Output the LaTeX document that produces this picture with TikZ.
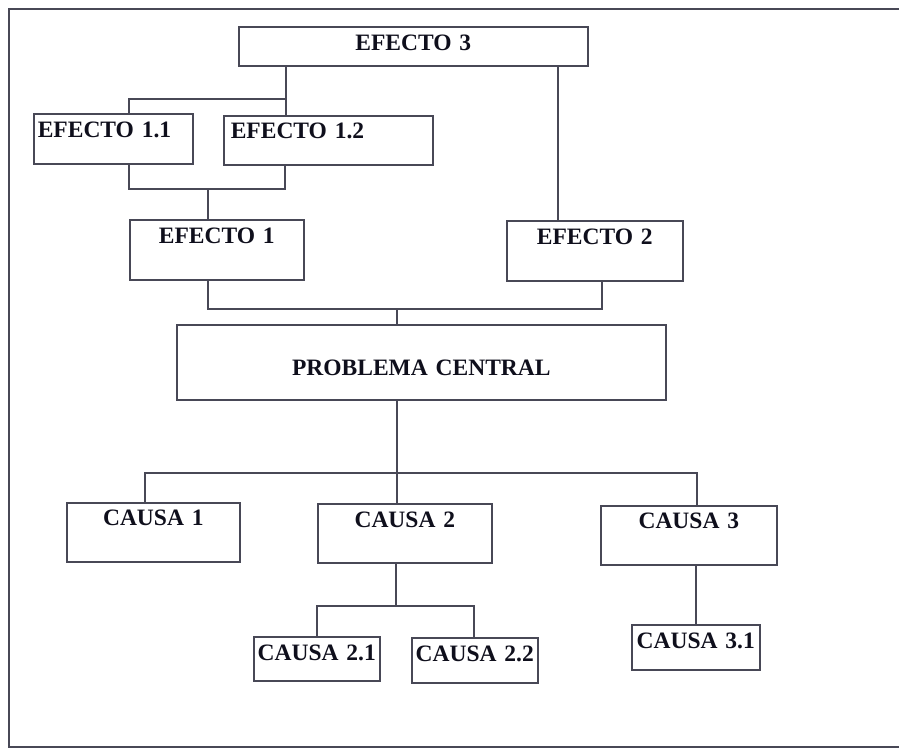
\documentclass[tikz,border=0pt]{standalone}
\usepackage{fontspec}
\setmainfont{Liberation Serif}
\definecolor{ln}{RGB}{72,72,86}
\definecolor{tx}{RGB}{15,15,28}
\begin{document}
\begin{tikzpicture}[x=1pt,y=-1pt,
  box/.style={draw=ln, line width=1.6pt, inner ysep=0pt, inner xsep=0pt, anchor=north west,
    font=\fontsize{23.5}{28}\selectfont\bfseries, text=tx, align=center},
  wire/.style={draw=ln, line width=1.6pt}]
\useasboundingbox (0,0) rectangle (899,751);
\fill[white] (0,0) rectangle (899,751);
% outer frame
\draw[wire] (900,9) -- (9,9) -- (9,747) -- (900,747);
% boxes
\node[box, text width=349pt, text height=24pt, text depth=15pt] (e3) at (238,26) {EFECTO 3};
\node[box, align=left, inner xsep=4pt, text width=151pt, text height=24pt, text depth=26pt] (e11) at (33,113) {EFECTO 1.1};
\node[box, align=left, inner xsep=7pt, text width=195pt, text height=23pt, text depth=26pt] (e12) at (223,115) {EFECTO 1.2};
\node[box, text width=174pt, text height=24pt, text depth=36pt] (e1) at (129,219) {EFECTO 1};
\node[box, text width=176pt, text height=24pt, text depth=36pt] (e2) at (506,220) {EFECTO 2};
\node[box, text width=489pt, text height=51pt, text depth=24pt] (pc) at (176,324) {PROBLEMA CENTRAL};
\node[box, text width=173pt, text height=23pt, text depth=36pt] (c1) at (66,502) {CAUSA 1};
\node[box, text width=174pt, text height=24pt, text depth=35pt] (c2) at (317,503) {CAUSA 2};
\node[box, text width=176pt, text height=23pt, text depth=36pt] (c3) at (600,505) {CAUSA 3};
\node[box, text width=126pt, text height=24pt, text depth=20pt] (c21) at (253,636) {CAUSA 2.1};
\node[box, text width=126pt, text height=24pt, text depth=21pt] (c22) at (411,637) {CAUSA 2.2};
\node[box, text width=128pt, text height=24pt, text depth=21pt] (c31) at (631,624) {CAUSA 3.1};
% junction coordinates
\coordinate (j1) at (286,99);
\coordinate (j1l) at (129,99);
\coordinate (j2l) at (129,189);
\coordinate (j2r) at (285,189);
\coordinate (j2m) at (208,189);
\coordinate (x2) at (558,0);
\coordinate (j3l) at (208,309);
\coordinate (j3r) at (602,309);
\coordinate (j3m) at (397,309);
\coordinate (j4l) at (145,473);
\coordinate (j4r) at (697,473);
\coordinate (j4m) at (397,473);
\coordinate (j5l) at (317,606);
\coordinate (j5r) at (474,606);
\coordinate (j5m) at (396,606);
\coordinate (j6) at (696,0);
% connectors
\draw[wire] (e3.south -| j1) -- (e12.north -| j1);
\draw[wire] (j1) -- (j1l) -- (e11.north -| j1l);
\draw[wire] (e11.south -| j2l) -- (j2l) -- (j2r) -- (e12.south -| j2r);
\draw[wire] (j2m) -- (e1.north -| j2m);
\draw[wire] (e3.south -| x2) -- (e2.north -| x2);
\draw[wire] (e1.south -| j3l) -- (j3l) -- (j3r) -- (e2.south -| j3r);
\draw[wire] (j3m) -- (pc.north -| j3m);
\draw[wire] (pc.south -| j4m) -- (c2.north -| j4m);
\draw[wire] (c1.north -| j4l) -- (j4l) -- (j4r) -- (c3.north -| j4r);
\draw[wire] (c2.south -| j5m) -- (j5m);
\draw[wire] (c21.north -| j5l) -- (j5l) -- (j5r) -- (c22.north -| j5r);
\draw[wire] (c3.south -| j6) -- (c31.north -| j6);
\end{tikzpicture}
\end{document}
